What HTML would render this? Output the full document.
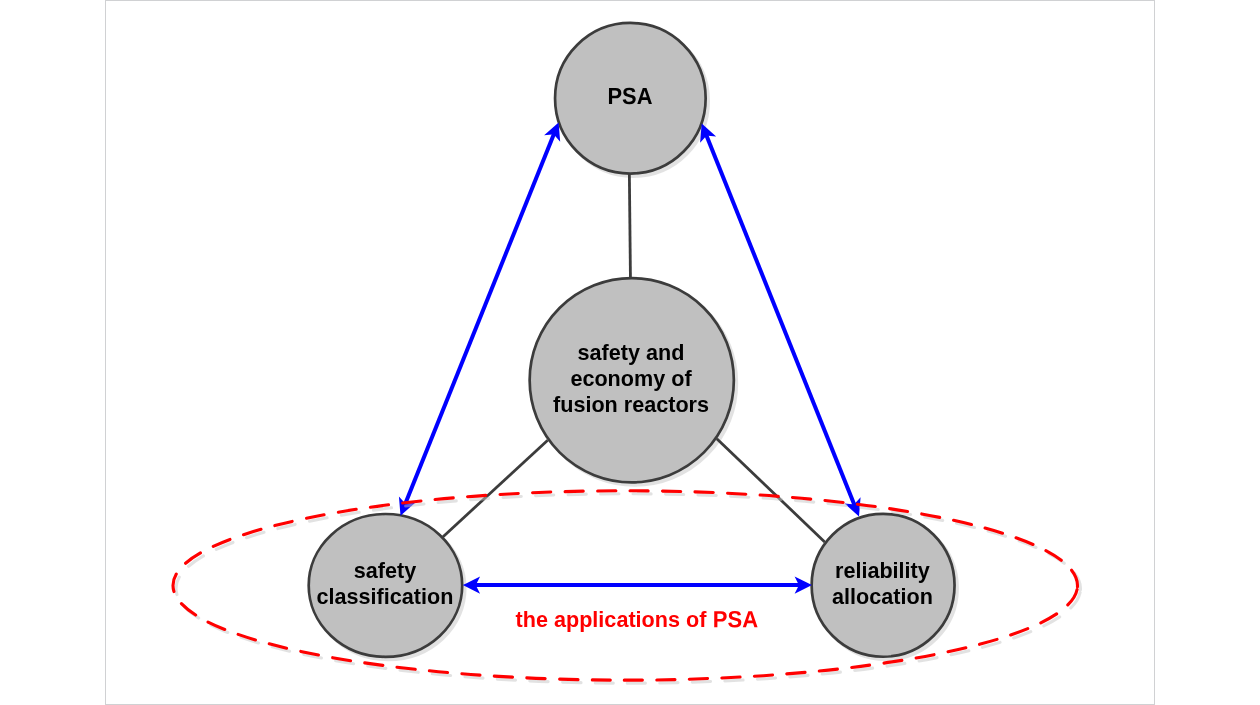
<!DOCTYPE html>
<html>
<head>
<meta charset="utf-8">
<title>PSA diagram</title>
<style>
html,body{margin:0;padding:0;background:#ffffff;}
body{width:1260px;height:705px;overflow:hidden;position:relative;font-family:"Liberation Sans",sans-serif;}
#frame{position:absolute;left:105px;top:0;width:1048px;height:703px;border:1px solid #d0d1d3;background:#ffffff;}
svg{position:absolute;left:0;top:0;will-change:transform;}
.s{filter:drop-shadow(3px 3.2px 0.3px rgba(198,198,198,0.5));}
.node{fill:#c0c0c0;stroke:#3c3c3c;stroke-width:2.7;}
.gl{stroke:#3c3c3c;stroke-width:2.8;fill:none;}
.bl{stroke:#0000ff;stroke-width:4.0;fill:none;}
.bh{fill:#0000ff;stroke:#0000ff;stroke-width:3.7;stroke-linejoin:miter;stroke-miterlimit:10;}
text{font-family:"Liberation Sans",sans-serif;font-weight:bold;font-size:21.6px;text-anchor:middle;fill:#000;}
</style>
</head>
<body>
<div id="frame"></div>
<svg width="1260" height="705" viewBox="0 0 1260 705">
<!-- nodes -->
<g class="s"><circle class="node" cx="630.35" cy="98.25" r="75.3"/></g>
<g class="s"><circle class="node" cx="631.75" cy="380.2" r="102.1"/></g>
<g class="s"><ellipse class="node" cx="385.45" cy="585.4" rx="76.75" ry="71.4"/></g>
<g class="s"><circle class="node" cx="883.1" cy="585.3" r="71.45"/></g>
<!-- gray connectors -->
<g><line class="gl" x1="629.35" y1="173" x2="630.45" y2="278.5"/></g>
<g><line class="gl" x1="547.7" y1="440.2" x2="442.8" y2="537.0"/></g>
<g><line class="gl" x1="716.8" y1="438.8" x2="824.7" y2="541.9"/></g>
<!-- blue arrows -->
<g>
<line class="bl" x1="554.54" y1="132.50" x2="404.56" y2="505.60"/>
<path class="bh" d="M402.04 511.86L401.22 501.83L404.56 505.60L409.57 505.19Z"/>
<path class="bh" d="M557.06 126.24L557.88 136.27L554.54 132.50L549.53 132.91Z"/>
</g>
<g>
<line class="bl" x1="705.75" y1="133.71" x2="854.95" y2="506.29"/>
<path class="bh" d="M857.46 512.56L849.94 505.88L854.95 506.29L858.29 502.53Z"/>
<path class="bh" d="M703.24 127.44L710.76 134.12L705.75 133.71L702.41 137.47Z"/>
</g>
<g>
<line class="bl" x1="473.69" y1="585.10" x2="801.01" y2="585.10"/>
<path class="bh" d="M807.76 585.10L798.76 589.60L801.01 585.10L798.76 580.60Z"/>
<path class="bh" d="M466.94 585.10L475.94 580.60L473.69 585.10L475.94 589.60Z"/>
</g>
<!-- red dashed ellipse -->
<g class="s"><path d="M1077.44 587.00A452.25 94.70 0 1 0 173.00 585.50A452.25 94.70 0 0 0 1077.44 587.00" fill="none" stroke="#ff0000" stroke-width="3.1" stroke-linecap="round" stroke-dasharray="18.2 14.32"/></g>
<!-- labels -->
<text transform="translate(630,104.1) scale(1.012,1.085) rotate(0.03)">PSA</text>
<text x="631" y="360">safety and</text>
<text x="631" y="386">economy of</text>
<text x="631" y="412">fusion reactors</text>
<text x="385" y="578.4">safety</text>
<text x="385" y="604.4">classification</text>
<text x="882.4" y="578.3">reliability</text>
<text x="882.5" y="604.3">allocation</text>
<text x="515.6" y="627" style="fill:#ff0000;text-anchor:start">the applications of</text>
<text transform="translate(712.8,627.2) scale(1.018,1.085) rotate(0.03)" style="fill:#ff0000;text-anchor:start">PSA</text>
</svg>
</body>
</html>
